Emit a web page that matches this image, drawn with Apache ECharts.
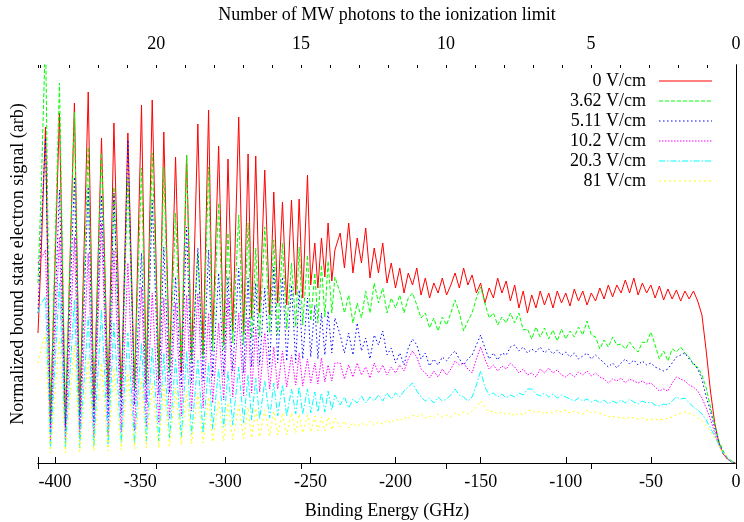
<!DOCTYPE html>
<html><head><meta charset="utf-8">
<script src="https://cdn.jsdelivr.net/npm/echarts/dist/echarts.min.js"></script>
<style>html,body{margin:0;padding:0;background:#fff}#c{width:744px;height:522px}</style>
</head><body><div id="c"></div>
<script>
const FONT = '"Liberation Serif", "Times New Roman", serif';
const seriesNames = ['0 V/cm','3.62 V/cm','5.11 V/cm','10.2 V/cm','20.3 V/cm','81 V/cm'];
const seriesColors = ['#ff0000','#00ff00','#0000ff','#ff00ff','#00ffff','#ffff00'];
const seriesDash = ['solid',[4,2],[1.5,2.5],[1.5,1.5],[6,2,1.5,2],[2,3]];
const photonGHz = 17.03;       // MW photon energy (top axis conversion)
const energyMin = -410, energyMax = 0;

// leading edge of the scans
const edgeE = [-410, -408];
const edgeRed = [130, 215];
const edgeGreen = [180, 280];
const edgeBlue = [150, 240];
const edgeMagenta = [200, 205];
const edgeCyan = [150, 160];
const edgeYellow = [100, 115];

// resolved Rydberg peaks and the minima between them (GHz)
const peakE = [-405.6,-397.4,-388.6,-380.5,-372.7,-365.4,-357.2,-349.2,-342.9,-336.1,-329.2,-322.7,-316.1,-309.8,-303.9,-298.4,-292.1,-286.6,-282.1,-276.8,-271.5,-266.4,-261.1,-256.6,-251.7,-247.4,-243.5,-239.6,-235.6];
const valleyE = [-402.7,-393.9,-385.5,-377.2,-368.8,-361.1,-353.3,-346.4,-339.0,-332.7,-325.8,-319.8,-313.0,-307.4,-300.9,-295.6,-289.2,-284.5,-279.8,-273.9,-269.2,-263.9,-258.6,-254.5,-249.8,-245.6,-241.5,-237.4];

const peaksRed = [336,350,360,371,325,340,330,358,363,331,306,308,339,353,317,304,346,309,307,293,271,261,263,264,288,220,225,240,213];
const valleysRed = [42,38,50,55,68,66,73,80,84,95,90,103,108,122,118,132,128,145,150,148,160,158,168,165,178,175,186,182];
const peaksGreen = [430,380,351,316,310,276,285,295,310,296,250,308,210,296,260,230,248,240,215,236,223,220,200,216,208,190,198,202,186];
const valleysGreen = [40,44,48,52,62,66,74,78,86,90,96,100,104,112,113,120,118,124,126,130,128,134,136,138,142,140,146,150];
const peaksBlue = [325,273,286,276,268,270,323,210,263,216,186,236,215,213,190,186,195,185,180,175,196,186,178,173,165,158,150,152,145];
const valleysBlue = [30,33,35,38,46,50,58,60,68,70,76,80,82,86,88,92,90,96,98,96,100,102,100,104,106,104,108,110];
const peaksMagenta = [213,226,226,210,240,213,200,176,170,165,160,168,170,150,140,165,150,145,136,130,116,112,108,110,104,100,105,98,100];
const valleysMagenta = [22,21,24,25,28,31,32,36,40,44,47,52,55,60,63,66,67,70,71,74,74,76,78,77,80,79,81,82];
const peaksCyan = [166,180,163,146,153,140,130,120,115,110,104,112,103,100,94,92,96,88,85,82,80,78,74,76,74,71,70,72,68];
const valleysCyan = [14,15,15,17,18,20,20,22,22,25,26,29,30,34,36,38,40,43,44,45,47,47,49,49,50,51,51,53];
const peaksYellow = [130,125,118,105,100,95,90,85,80,78,75,72,70,66,62,60,58,56,55,53,52,50,50,49,48,47,46,46,45];
const valleysYellow = [10,10,11,12,12,13,14,15,15,17,18,19,20,21,22,23,24,25,26,27,28,28,30,30,31,32,32,33];

// quasi-continuum region, sampled every 2.5 GHz from -232.5 GHz to 0
const plateauStart = -232.5, plateauStep = 2.5;
const plateauRed = [230,195,240,190,225,200,235,185,215,190,
 220,180,200,175,195,170,190,178,195,168,
 185,165,180,170,185,168,178,190,175,195,
 178,188,170,180,160,175,165,185,170,182,
 162,178,155,172,150,168,155,172,158,170,
 155,172,160,170,157,174,162,172,158,170,
 162,175,164,178,166,178,170,183,170,185,
 168,180,170,178,165,177,163,174,164,173,
 162,172,164,172,162,148,112,72,40,20,
 9,4,1,0];
const plateauGreen = [170,150,168,140,160,145,172,150,180,160,
 175,150,165,155,168,150,165,170,158,145,
 150,135,145,132,146,138,150,163,150,132,
 142,150,165,176,160,145,150,138,146,140,
 150,140,150,133,134,124,136,126,135,124,
 133,122,134,124,132,126,136,128,142,128,
 126,114,123,116,126,118,119,114,121,115,
 111,121,120,131,118,104,112,102,114,111,
 116,110,106,98,96,88,75,56,38,22,
 12,5,2,0];
const plateauBlue = [128,110,130,108,140,112,125,104,128,118,
 132,108,115,100,110,98,115,124,118,104,
 110,97,104,98,106,102,108,112,104,98,
 104,108,118,128,115,104,110,103,110,108,
 116,118,112,116,110,114,111,116,110,114,
 109,113,108,111,106,110,104,107,110,104,
 108,104,100,96,100,95,100,104,99,103,
 98,102,98,100,96,94,92,94,100,106,
 108,110,104,100,94,84,66,52,35,20,
 10,4,1,0];
const plateauMagenta = [100,84,98,86,100,88,96,85,100,90,
 98,88,96,90,98,92,104,112,106,94,
 90,85,92,86,94,88,94,102,98,100,
 94,90,104,116,104,94,98,92,97,94,
 100,96,90,94,88,90,86,94,90,95,
 90,93,88,86,90,86,91,88,92,87,
 90,86,84,80,84,82,85,80,84,82,
 80,82,79,80,76,72,74,72,80,86,
 84,82,78,76,72,65,55,44,30,18,
 9,4,1,0];
const plateauCyan = [58,66,55,64,60,67,60,66,62,68,
 62,70,64,70,66,72,76,80,72,66,
 62,65,60,66,62,64,68,74,68,66,
 62,66,78,92,76,68,70,66,69,65,
 68,66,70,68,74,74,69,67,70,66,
 69,65,68,66,64,62,65,62,64,61,
 63,60,63,59,62,60,63,60,64,61,
 59,62,60,61,58,57,59,58,62,66,
 64,65,60,56,53,49,43,35,27,18,
 10,5,1,0];
const plateauYellow = [36,42,35,40,36,40,37,42,38,41,
 39,43,40,44,42,46,44,48,46,49,
 45,47,45,49,46,48,46,50,48,51,
 49,52,56,62,56,51,52,49,51,48,
 50,47,50,48,52,53,50,52,49,51,
 50,53,51,53,50,52,50,49,53,50,
 51,50,48,46,47,45,46,44,46,45,
 44,45,43,44,43,44,43,45,46,48,
 50,51,50,48,45,42,37,32,25,17,
 10,5,1,0];

const photonTicks = [0,5,10,15,20];

function build(edge, peaks, valleys, plateau) {
  const d = [];
  edgeE.forEach((e, i) => d.push([e, edge[i]]));
  peakE.forEach((e, i) => {
    d.push([e, peaks[i]]);
    if (i < valleyE.length) d.push([valleyE[i], valleys[i]]);
  });
  plateau.forEach((v, i) => d.push([plateauStart + plateauStep * i, v]));
  return d;
}

const allData = [
  build(edgeRed, peaksRed, valleysRed, plateauRed),
  build(edgeGreen, peaksGreen, valleysGreen, plateauGreen),
  build(edgeBlue, peaksBlue, valleysBlue, plateauBlue),
  build(edgeMagenta, peaksMagenta, valleysMagenta, plateauMagenta),
  build(edgeCyan, peaksCyan, valleysCyan, plateauCyan),
  build(edgeYellow, peaksYellow, valleysYellow, plateauYellow)
];

const txt = {fontFamily: FONT, fontSize: 18, color: '#000'};
const chart = echarts.init(document.getElementById('c'), null, {renderer: 'canvas'});
const photonMax = -energyMin / photonGHz;

const legendGraphics = [];
seriesNames.forEach((n, i) => {
  const y = 81 + 20 * i;
  legendGraphics.push({type: 'text', id: 'lt' + i, x: 646, y: y, z: 100, silent: true,
    style: {text: n, textAlign: 'right', textVerticalAlign: 'middle',
      font: '18px ' + FONT, fill: '#000'}});
  legendGraphics.push({type: 'line', id: 'll' + i, z: 100, silent: true,
    shape: {x1: 659, y1: y, x2: 712, y2: y},
    style: {stroke: seriesColors[i], fill: null, lineWidth: 1,
      lineDash: seriesDash[i] === 'solid' ? null : seriesDash[i]}});
});

chart.setOption({
  animation: false,
  backgroundColor: '#fff',
  grid: {left: 38, right: 8, top: 65, bottom: 59, containLabel: false, outerBoundsMode: 'none'},
  xAxis: [
    {type: 'value', position: 'bottom', min: energyMin, max: energyMax, splitNumber: 8,
     axisLine: {show: true, lineStyle: {color: '#000', width: 1}},
     axisTick: {show: true, inside: true, length: 6, lineStyle: {color: '#000'}},
     axisLabel: Object.assign({margin: 10, formatter: v => (v % 50 === 0 ? String(v) : '')}, txt),
     splitLine: {show: false},
     name: 'Binding Energy (GHz)', nameLocation: 'middle', nameGap: 39, nameTextStyle: txt},
    {type: 'value', position: 'top', min: 0, max: photonMax, interval: 5, inverse: true,
     axisLine: {show: true, lineStyle: {color: '#000', width: 1}},
     axisTick: {show: true, inside: true, length: 6, lineStyle: {color: '#000'}},
     axisLabel: Object.assign({margin: 12, formatter: v => (photonTicks.includes(v) ? String(v) : '')}, txt),
     splitLine: {show: false},
     name: 'Number of MW photons to the ionization limit', nameLocation: 'middle', nameGap: 41, nameTextStyle: txt},
    {type: 'value', position: 'top', min: 0, max: photonMax, interval: 1, inverse: true,
     axisLine: {show: false},
     axisTick: {show: true, inside: true, length: 3, lineStyle: {color: '#000'}},
     axisLabel: {show: false}, splitLine: {show: false}}
  ],
  yAxis: [
    {type: 'value', position: 'left', min: 0, max: 398,
     axisLine: {show: true, lineStyle: {color: '#000', width: 1}},
     axisTick: {show: false}, axisLabel: {show: false}, splitLine: {show: false},
     name: 'Normalized bound state electron signal (arb)', nameLocation: 'middle', nameGap: 11,
     nameRotate: 90, nameTextStyle: txt},
    {type: 'value', position: 'right', min: 0, max: 398,
     axisLine: {show: true, lineStyle: {color: '#000', width: 1}},
     axisTick: {show: false}, axisLabel: {show: false}, splitLine: {show: false}}
  ],
  series: allData.map((d, i) => ({
    name: seriesNames[i], type: 'line', xAxisIndex: 0, yAxisIndex: 0,
    data: d, showSymbol: false, symbol: 'none', clip: true,
    lineStyle: {color: seriesColors[i], width: 1, type: seriesDash[i]},
    emphasis: {disabled: true}
  })),
  graphic: {elements: legendGraphics}
});
</script>
</body></html>
